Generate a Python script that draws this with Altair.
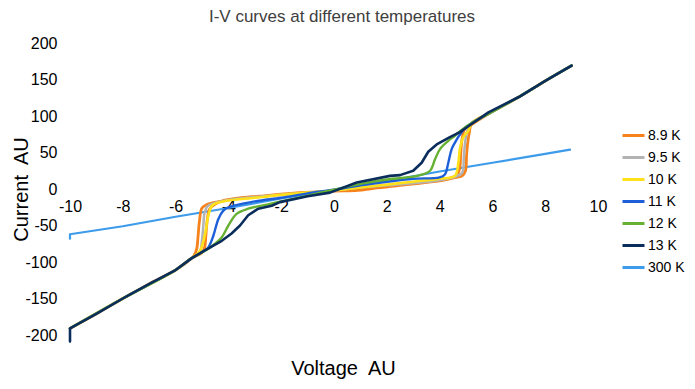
import altair as alt
import pandas as pd

FONT = "Liberation Sans, Arial, sans-serif"

TITLE = "I-V curves at different temperatures"
SERIES = ["8.9 K", "9.5 K", "10 K", "11 K", "12 K", "13 K", "300 K"]
COLORS = ["#F7821B", "#B3B3B3", "#FFE11A", "#1C5FD8", "#66B032", "#0A2D5C", "#3C9BEA"]

X_TICKS = [-10, -8, -6, -4, -2, 0, 2, 4, 6, 8, 10]
Y_TICKS = [-200, -150, -100, -50, 0, 50, 100, 150, 200]

# 8.9 K : forward sweep then return sweep (hysteresis band)
V_89_fwd = [-10, -9, -8, -7, -6, -5.4, -5.0, -4.9, -4.85, -4.8, -4.72, -4.6, -4.2, -3.0, -2.0, -1.3, 0.0, 0.9,
            1.5, 2.75, 3.5, 4.0, 4.5, 4.85, 4.98, 5.02, 5.06, 5.12, 5.22, 6, 7, 8, 9]
I_89_fwd = [-191, -171, -150, -130, -111, -95, -87, -80, -62, -42, -28, -23, -16, -11, -7, -5, -3, -2,
            1, 6, 9, 11, 15, 18, 25, 45, 62, 76, 90, 106, 126, 148, 169]
V_89_ret = [9, 8, 7, 6, 5.2, 4.95, 4.85, 4.8, 4.76, 4.65, 4.3, 3.5, 2.5, 1.5, 0.5, -0.5, -1.5, -2.5, -3.5,
            -4.3, -4.8, -5.0, -5.1, -5.15, -5.2, -5.3, -5.4, -6, -7, -8, -9, -10]
I_89_ret = [169, 148, 126, 106, 88, 82, 68, 48, 28, 19, 14, 9, 5, 1, -1, -4, -6, -9, -12,
            -17, -21, -26, -45, -65, -82, -91, -95, -111, -130, -150, -171, -191]

V_95 = [-10, -8, -6, -5.4, -5.1, -5.0, -4.95, -4.9, -4.8, -4.6, -4, -3, -2, -1, 0, 1, 2, 3, 4, 4.6,
        4.85, 4.92, 4.97, 5.05, 5.2, 6, 7, 8, 9]
I_95 = [-191, -150, -111, -95, -88, -70, -50, -32, -24, -20, -15, -11, -8, -5, -2, 2, 5, 8, 12, 17,
        22, 45, 65, 80, 90, 106, 126, 148, 169]

V_10 = [-10, -8, -6, -5.4, -5.1, -4.95, -4.85, -4.75, -4.6, -4.2, -3, -2, -1, 0, 1, 2, 3, 4, 4.58,
        4.71, 4.77, 4.9, 5.09, 5.2, 6, 7, 8, 9]
I_10 = [-191, -150, -111, -95, -86, -72, -55, -35, -22, -17, -12, -8, -5, -2, 2, 6, 10, 14, 18,
        36, 55, 71, 80, 90, 106, 126, 148, 169]

V_11 = [-10, -8, -6, -5.4, -4.89, -4.76, -4.57, -4.38, -4.2, -4.0, -3, -2, -1, 0, 1, 2, 3, 4.0, 4.2,
        4.33, 4.46, 4.65, 4.84, 5.0, 5.2, 6, 7, 8, 9]
I_11 = [-191, -150, -111, -95, -84, -80, -64, -41, -30, -25, -17, -12, -6, -1, 5, 10, 14, 16, 20,
        36, 55, 68, 78, 85, 90, 106, 126, 148, 169]

V_12 = [-10, -8, -6, -5.4, -4.85, -4.51, -4.25, -4.0, -3.69, -3.25, -2.5, -2, -1, 0, 1, 2, 3, 3.26,
        3.64, 3.83, 4.02, 4.33, 4.58, 4.8, 5.2, 6, 7, 8, 9]
I_12 = [-191, -150, -111, -95, -84, -75, -66, -50, -34, -27, -21, -17, -9, -1, 7, 13, 17, 19,
        25, 41, 55, 66, 73, 80, 90, 106, 126, 148, 169]

V_13 = [-10, -10, -9, -8, -7, -6, -5.4, -4.89, -4.25, -3.88, -3.56, -3.25, -2.87, -2.36, -2.05, -1,
        -0.15, 0.86, 2.12, 2.5, 3.0, 3.32, 3.57, 3.89, 4.39, 4.77, 5.21, 5.85, 7, 8, 9]
I_13 = [-209, -191, -171, -150, -130, -111, -95, -84, -71, -61, -50, -36, -27, -23, -18, -10,
        -5, 9, 18, 19, 25, 36, 51, 61, 71, 78, 89, 105, 126, 148, 169]

V_300 = [-10, -10, -8, -6, -4, -2, 0, 2, 4, 6, 8, 8.94]
I_300 = [-68, -62, -51, -38, -26, -13, -1, 11, 24, 36, 48, 54]


def frame(name, vs, cs):
    return pd.DataFrame({"V": vs, "I": cs, "T": name, "idx": list(range(len(vs)))})


# (name, data, stroke width, interpolation)
data_by_series = [
    ("300 K", frame("300 K", V_300, I_300), 2.2, "linear"),
    ("8.9 K", frame("8.9 K", V_89_fwd + V_89_ret, I_89_fwd + I_89_ret), 2.8, "catmull-rom"),
    ("9.5 K", frame("9.5 K", V_95, I_95), 2.5, "catmull-rom"),
    ("10 K", frame("10 K", V_10, I_10), 2.6, "catmull-rom"),
    ("11 K", frame("11 K", V_11, I_11), 2.4, "catmull-rom"),
    ("12 K", frame("12 K", V_12, I_12), 2.4, "catmull-rom"),
    ("13 K", frame("13 K", V_13, I_13), 2.6, "linear"),
]

HYPHEN_LABEL = "datum.value < 0 ? '-' + abs(datum.value) : '' + datum.value"

x_enc = alt.X(
    "V:Q",
    scale=alt.Scale(domain=[-10, 10], nice=False, zero=False),
    axis=alt.Axis(
        values=X_TICKS, offset=-146, labelPadding=9, labelFlush=False, labelOverlap=False,
        labelExpr=HYPHEN_LABEL,
        title="Voltage\u00a0 AU", titleFontSize=20, titleFont=FONT, titleFontWeight="normal",
        titleColor="#000000", titleX=273, titleY=185, titleBaseline="alphabetic",
    ),
)
y_enc = alt.Y(
    "I:Q",
    scale=alt.Scale(domain=[-200, 200], nice=False, zero=False),
    axis=alt.Axis(
        values=Y_TICKS, labelPadding=13, labelFlush=False, labelOverlap=False,
        labelExpr=HYPHEN_LABEL,
        title="Current\u00a0 AU", titleFontSize=20, titleFont=FONT, titleFontWeight="normal",
        titleColor="#000000", titleX=-39, titleY=146,
    ),
)
color_enc = alt.Color(
    "T:N",
    scale=alt.Scale(domain=SERIES, range=COLORS),
    legend=alt.Legend(
        title=None, orient="none", legendX=551, legendY=80,
        symbolType="stroke", symbolStrokeWidth=3, symbolSize=484,
        labelFont=FONT, labelFontSize=14, labelColor="#000000", labelOffset=2,
        rowPadding=2,
    ),
)

layers = []
for name, df, sw, interp in data_by_series:
    layers.append(
        alt.Chart(df).mark_line(
            strokeWidth=sw, strokeCap="round", strokeJoin="round", interpolate=interp
        ).encode(x=x_enc, y=y_enc, color=color_enc, order="idx:Q")
    )

title_layer = alt.Chart(pd.DataFrame({"t": [TITLE]})).mark_text(
    font=FONT, fontSize=17, color="#404040", align="center", baseline="middle"
).encode(text="t:N", x=alt.value(272), y=alt.value(-26))
layers.append(title_layer)

chart = alt.layer(*layers).properties(
    width=528,
    height=292,
    padding={"left": 62, "top": 35, "right": 89, "bottom": 46},
    autosize=alt.AutoSizeParams(type="none"),
).configure_view(stroke=None).configure_axis(
    domain=False, ticks=False, grid=False, labelFont=FONT, labelFontSize=16, labelColor="#000000"
)

chart.save("out.html", embed_options={"renderer": "svg", "actions": False})
